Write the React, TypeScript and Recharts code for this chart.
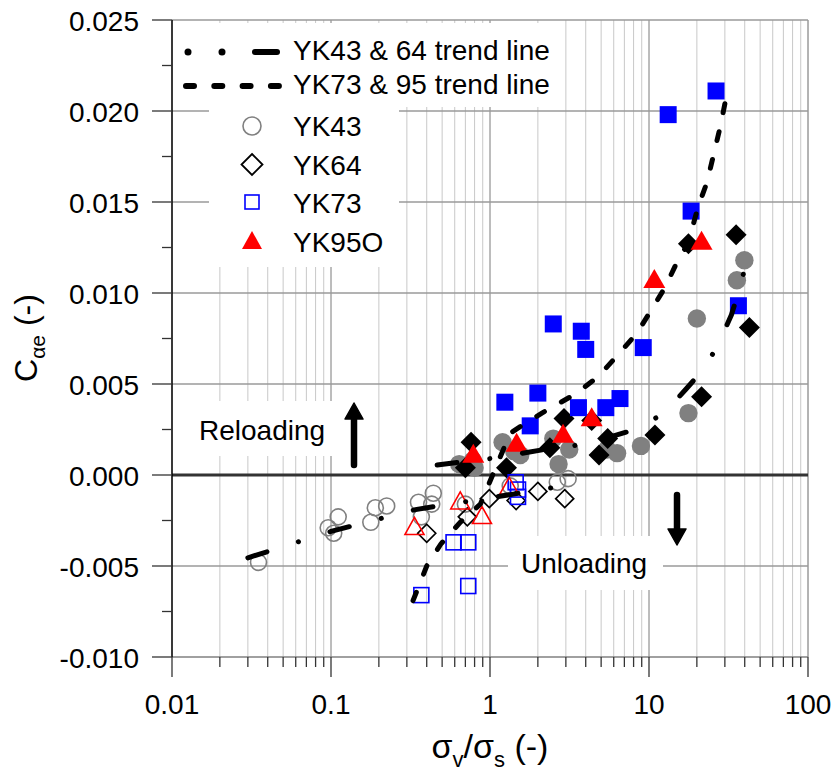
import {
  CartesianGrid,
  ReferenceLine,
  Scatter,
  ScatterChart,
  XAxis,
  YAxis,
} from "recharts";

const FONT = "Arial, 'Liberation Sans', sans-serif";

// axis ticks (log x, linear y)
const xTicks = [
  0.01, 0.02, 0.03, 0.04, 0.05, 0.06, 0.07, 0.08, 0.09,
  0.1, 0.2, 0.3, 0.4, 0.5, 0.6, 0.7, 0.8, 0.9,
  1, 2, 3, 4, 5, 6, 7, 8, 9,
  10, 20, 30, 40, 50, 60, 70, 80, 90, 100,
];
const xDecades = [0.1, 1, 10];
const yTicks = [
  -0.01, -0.0075, -0.005, -0.0025, 0, 0.0025, 0.005, 0.0075, 0.01, 0.0125,
  0.015, 0.0175, 0.02, 0.0225, 0.025,
];
const yGrid = [-0.005, 0.005, 0.01, 0.015, 0.02, 0.025];

// [sigma_v/sigma_s, C_alpha_e] - open = unloading, filled = reloading
const yk43Open = [
  [0.035, -0.0048], [0.096, -0.0029], [0.104, -0.0032], [0.111, -0.0023],
  [0.178, -0.0026], [0.19, -0.0018], [0.224, -0.0017], [0.355, -0.0015],
  [0.37, -0.0023], [0.44, -0.001], [0.43, -0.0016], [0.7, -0.0016],
  [1.34, -0.0006], [2.65, -0.0004], [3.1, -0.0002],
];
const yk43Filled = [
  [0.64, 0.0006], [0.8, 0.0004], [0.78, 0.0008], [1.2, 0.0018], [1.42, 0.0013],
  [1.55, 0.0011], [2.5, 0.002], [2.7, 0.0006], [3.15, 0.0014], [5.45, 0.0014],
  [6.3, 0.0012], [8.9, 0.0016], [17.7, 0.0034], [20, 0.0086], [35.7, 0.0107],
  [39.8, 0.0118],
];
const yk64Open = [
  [0.4, -0.0032], [0.72, -0.0023], [0.99, -0.0013], [1.46, -0.0014],
  [2.0, -0.0009], [2.95, -0.0013],
];
const yk64Filled = [
  [0.7, 0.0004], [0.76, 0.0018], [1.27, 0.0004], [2.38, 0.0015], [2.92, 0.0031],
  [4.36, 0.003], [4.85, 0.0011], [5.5, 0.002], [10.9, 0.0022], [17.7, 0.0127],
  [21.4, 0.0043], [35.3, 0.0132], [42.8, 0.0081],
];
const yk73Open = [
  [0.37, -0.0066], [0.59, -0.0037], [0.73, -0.0037], [0.73, -0.0061],
  [1.45, -0.0004], [1.5, -0.0008], [1.5, -0.0012],
];
const yk73Filled = [
  [1.24, 0.004], [1.79, 0.0027], [2.0, 0.0045], [2.5, 0.0083], [3.6, 0.0037],
  [3.75, 0.0079], [4.0, 0.0069], [5.35, 0.0037], [6.57, 0.0042], [9.2, 0.007],
  [13.2, 0.0198], [18.4, 0.0145], [26.4, 0.0211], [36.5, 0.0093],
];
const yk95Open = [
  [0.335, -0.0028], [0.65, -0.0014], [0.89, -0.0022], [1.32, -0.0006],
];
const yk95Filled = [
  [0.785, 0.0012], [1.47, 0.0018], [2.88, 0.0023], [4.36, 0.0032],
  [10.8, 0.0108], [21.4, 0.0129],
];

// trend lines
const trend4364Unload = [
  [0.03, -0.00455], [0.1, -0.0031], [0.34, -0.0019], [1.1, -0.0012], [2.9, -0.0006],
];
const trend4364Reload = [
  [0.465, 0.00055], [1.0, 0.0009], [2.2, 0.0014], [4.0, 0.0017], [8.2, 0.0025],
  [12.5, 0.0034], [17, 0.0047], [22, 0.0058], [27, 0.0071], [33, 0.0088],
  [37, 0.0102], [41.3, 0.0118],
];
const trend7395 = [
  [0.328, -0.0069], [0.4, -0.005], [0.49, -0.0038], [0.65, -0.0026],
  [0.87, -0.0016], [1.34, 0.0023], [1.71, 0.0029], [2.12, 0.0034],
  [3.52, 0.0045], [4.78, 0.0054], [6.38, 0.0066], [8.4, 0.0078],
  [10.4, 0.0091], [12.6, 0.0103], [15.2, 0.0118], [17.6, 0.0127],
  [20.3, 0.0147], [23.2, 0.0161], [28, 0.0191], [30.5, 0.0207],
];

const toPts = (arr: number[][]) => arr.map(([x, y]) => ({ x, y }));

const GREY = "#808080";
const BLUE = "#0000ff";
const RED = "#ff0000";

const circle = (filled: boolean) => (p: any) =>
  filled ? (
    <circle cx={p.cx} cy={p.cy} r={9.2} fill={GREY} />
  ) : (
    <circle cx={p.cx} cy={p.cy} r={8} fill="none" stroke={GREY} strokeWidth={1.6} />
  );

const diamond = (filled: boolean) => (p: any) => {
  const h = filled ? 10.5 : 9;
  const d = `M${p.cx},${p.cy - h}L${p.cx + h},${p.cy}L${p.cx},${p.cy + h}L${p.cx - h},${p.cy}Z`;
  return filled ? (
    <path d={d} fill="#000" />
  ) : (
    <path d={d} fill="none" stroke="#000" strokeWidth={1.7} />
  );
};

const square = (filled: boolean) => (p: any) =>
  filled ? (
    <rect x={p.cx - 8.5} y={p.cy - 8.5} width={17} height={17} fill={BLUE} />
  ) : (
    <rect x={p.cx - 7.5} y={p.cy - 7.5} width={15} height={15} fill="none" stroke={BLUE} strokeWidth={1.6} />
  );

const triangle = (filled: boolean) => (p: any) => {
  const w = filled ? 11 : 9.5;
  const h = filled ? 9.5 : 8.5;
  const d = `M${p.cx},${p.cy - h}L${p.cx + w},${p.cy + h}L${p.cx - w},${p.cy + h}Z`;
  return filled ? (
    <path d={d} fill={RED} />
  ) : (
    <path d={d} fill="none" stroke={RED} strokeWidth={1.6} />
  );
};

const noShape = () => <g />;

const XTick = (props: any) => {
  const { x, y, payload } = props;
  const v = payload.value;
  const lg = Math.log10(v);
  const major = Math.abs(lg - Math.round(lg)) < 1e-6;
  return (
    <g>
      <line x1={x} y1={y} x2={x} y2={y + (major ? 20 : 10)} stroke="#333" strokeWidth={1.3} />
      {major && (
        <text x={x} y={y + 57} textAnchor="middle" fontSize={28} fontFamily={FONT} fill="#000">
          {String(v)}
        </text>
      )}
    </g>
  );
};

const YTick = (props: any) => {
  const { x, y, payload } = props;
  const v = payload.value;
  const major = Math.abs(v / 0.005 - Math.round(v / 0.005)) < 1e-6;
  return (
    <g>
      <line x1={x - (major ? 20 : 10)} y1={y} x2={x} y2={y} stroke="#333" strokeWidth={1.3} />
      {major && (
        <text x={x - 33} y={y + 11} textAnchor="end" fontSize={28} fontFamily={FONT} fill="#000">
          {Math.abs(v) < 1e-9 ? "0.000" : v.toFixed(3)}
        </text>
      )}
    </g>
  );
};

const dashDot = "20 33 0.1 33";
const dashed = "9 19.5";

export default function App() {
  return (
    <div style={{ position: "absolute", left: 0, top: 0, width: 836, height: 771, background: "#fff" }}>
      <ScatterChart width={836} height={771} margin={{ top: 20, right: 28, bottom: 0, left: 0 }}>
        <CartesianGrid horizontal={false} vertical stroke="#c8c8c8" strokeWidth={1} />
        {xDecades.map((v) => (
          <ReferenceLine key={`xd${v}`} x={v} stroke="#a8a8a8" strokeWidth={1.3} />
        ))}
        {yGrid.map((v) => (
          <ReferenceLine key={`yg${v}`} y={v} stroke="#9a9a9a" strokeWidth={1.3} />
        ))}
        <ReferenceLine x={100} stroke="#9a9a9a" strokeWidth={1.3} />
        <ReferenceLine y={0} stroke="#333" strokeWidth={3} />
        <XAxis
          dataKey="x"
          type="number"
          scale="log"
          domain={[0.01, 100]}
          ticks={xTicks}
          interval={0}
          allowDataOverflow
          height={114}
          tickSize={0}
          tickMargin={0}
          tickLine={false}
          axisLine={{ stroke: "#808080", strokeWidth: 1.5 }}
          tick={<XTick />}
        />
        <YAxis
          dataKey="y"
          type="number"
          domain={[-0.01, 0.025]}
          ticks={yTicks}
          interval={0}
          allowDataOverflow
          width={172}
          tickSize={0}
          tickMargin={0}
          tickLine={false}
          axisLine={{ stroke: "#000", strokeWidth: 1.5 }}
          tick={<YTick />}
        />
        <Scatter data={toPts(yk43Open)} shape={circle(false)} isAnimationActive={false} />
        <Scatter data={toPts(yk43Filled)} shape={circle(true)} isAnimationActive={false} />
        <Scatter data={toPts(yk64Open)} shape={diamond(false)} isAnimationActive={false} />
        <Scatter data={toPts(yk64Filled)} shape={diamond(true)} isAnimationActive={false} />
        <Scatter data={toPts(yk73Open)} shape={square(false)} isAnimationActive={false} />
        <Scatter data={toPts(yk73Filled)} shape={square(true)} isAnimationActive={false} />
        <Scatter data={toPts(yk95Open)} shape={triangle(false)} isAnimationActive={false} />
        <Scatter data={toPts(yk95Filled)} shape={triangle(true)} isAnimationActive={false} />
        <Scatter
          data={toPts(trend4364Unload)}
          fill="#000"
          shape={noShape}
          line={{ stroke: "#000", strokeWidth: 5, strokeDasharray: dashDot, strokeLinecap: "round" }}
          isAnimationActive={false}
        />
        <Scatter
          data={toPts(trend4364Reload)}
          fill="#000"
          shape={noShape}
          line={{ stroke: "#000", strokeWidth: 5, strokeDasharray: dashDot, strokeLinecap: "round" }}
          isAnimationActive={false}
        />
        <Scatter
          data={toPts(trend7395)}
          fill="#000"
          shape={noShape}
          line={{ stroke: "#000", strokeWidth: 5, strokeDasharray: dashed, strokeLinecap: "round" }}
          isAnimationActive={false}
        />
      </ScatterChart>

      {/* legend, annotations and axis titles */}
      <svg
        width={836}
        height={771}
        style={{ position: "absolute", left: 0, top: 0, pointerEvents: "none" }}
        fontFamily={FONT}
      >
        <rect x={174} y={23} width={388} height={84} fill="#fff" />
        <rect x={209} y={105} width={190} height={162} fill="#fff" />
        <circle cx={188} cy={52} r={3.5} fill="#000" />
        <circle cx={222} cy={52} r={3.5} fill="#000" />
        <line x1={255} y1={52} x2={277} y2={52} stroke="#000" strokeWidth={6} strokeLinecap="round" />
        <text x={293} y={60} fontSize={28}>YK43 &amp; 64 trend line</text>
        <line x1={186} y1={86} x2={279} y2={86} stroke="#000" strokeWidth={6} strokeLinecap="round" strokeDasharray="8 20.3" />
        <text x={293} y={94} fontSize={28}>YK73 &amp; 95 trend line</text>

        <circle cx={252} cy={126} r={9} fill="none" stroke={GREY} strokeWidth={1.6} />
        <text x={293} y={136} fontSize={28}>YK43</text>
        <path d="M252,154L262.5,164.5L252,175L241.5,164.5Z" fill="none" stroke="#000" strokeWidth={1.8} />
        <text x={293} y={175} fontSize={28}>YK64</text>
        <rect x={245} y={195} width={14} height={14} fill="none" stroke={BLUE} strokeWidth={1.6} />
        <text x={293} y={213} fontSize={28}>YK73</text>
        <path d="M252,231L262,249L242,249Z" fill={RED} />
        <text x={293} y={252} fontSize={28}>YK95O</text>

        <rect x={192} y={401} width={153} height={55} fill="#fff" />
        <text x={199} y={440} fontSize={28}>Reloading</text>
        <line x1={354} y1={465} x2={354} y2={416} stroke="#000" strokeWidth={6.5} strokeLinecap="round" />
        <path d="M354,403L363,419L345,419Z" fill="#000" stroke="#000" strokeWidth={1.5} strokeLinejoin="round" />

        <rect x={508} y={536} width={155} height={54} fill="#fff" />
        <text x={521} y={573} fontSize={28}>Unloading</text>
        <line x1={677} y1={495} x2={677} y2={532} stroke="#000" strokeWidth={6.5} strokeLinecap="round" />
        <path d="M677,545L686,529L668,529Z" fill="#000" stroke="#000" strokeWidth={1.5} strokeLinejoin="round" />

        <text x={490} y={758} fontSize={34} textAnchor="middle">
          σ<tspan fontSize={22} dy={9}>v</tspan>
          <tspan dy={-9}>/σ</tspan>
          <tspan fontSize={22} dy={9}>s</tspan>
          <tspan dy={-9}> (-)</tspan>
        </text>
        <text x={0} y={0} fontSize={32} textAnchor="middle" transform="translate(37,338) rotate(-90)">
          C<tspan fontSize={21} dy={8}>αe</tspan>
          <tspan dy={-8}> (-)</tspan>
        </text>
      </svg>
    </div>
  );
}
